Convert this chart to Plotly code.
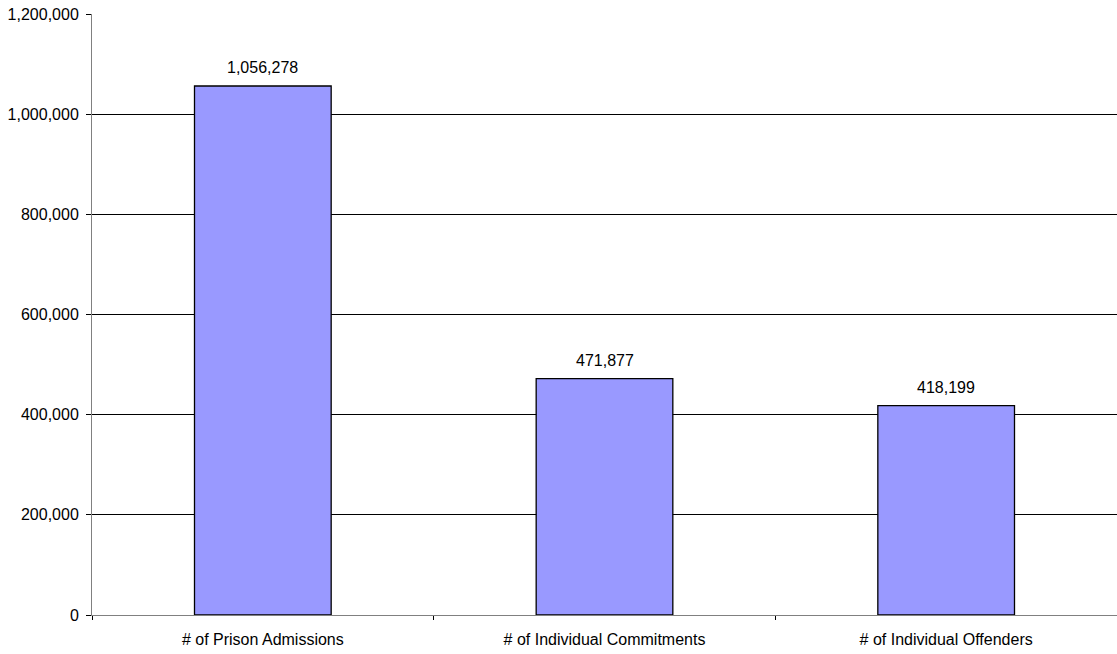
import plotly.graph_objects as go

categories = ["# of Prison Admissions", "# of Individual Commitments", "# of Individual Offenders"]
values = [1056278, 471877, 418199]
y_ticks = [0, 200000, 400000, 600000, 800000, 1000000, 1200000]
y_tick_labels = [f"{v:,}" for v in y_ticks]

FONT = "Liberation Sans, Arial, sans-serif"
FS = 16

fig = go.Figure(
    go.Bar(
        x=categories,
        y=values,
        marker=dict(color="#9999FF", line=dict(color="#000000", width=1.3)),
        hoverinfo="skip",
    )
)

# value labels above each bar
for cat, val in zip(categories, values):
    fig.add_annotation(
        x=cat, y=val, text=f"{val:,}", showarrow=False,
        yanchor="bottom", yshift=8,
        font=dict(family=FONT, size=FS, color="#000000"),
    )

fig.update_layout(
    width=1117, height=654,
    margin=dict(l=92, r=0, t=14, b=39),
    paper_bgcolor="white", plot_bgcolor="white",
    bargap=0.6, showlegend=False,
    font=dict(family=FONT, size=FS, color="#000000"),
)
fig.update_xaxes(
    type="category",
    showline=True, linecolor="#808080", linewidth=1,
    ticks="outside", tickson="boundaries", ticklen=4, tickcolor="#000000",
    showgrid=False, tickfont=dict(size=FS), ticklabelstandoff=10,
)
fig.update_yaxes(
    range=[0, 1200000],
    tickvals=y_ticks, ticktext=y_tick_labels,
    showline=True, linecolor="#808080", linewidth=1,
    ticks="outside", ticklen=5, tickcolor="#000000",
    showgrid=True, gridcolor="#000000", gridwidth=1,
    zeroline=False, tickfont=dict(size=FS), ticklabelstandoff=4,
)

fig.write_html("out.html")
